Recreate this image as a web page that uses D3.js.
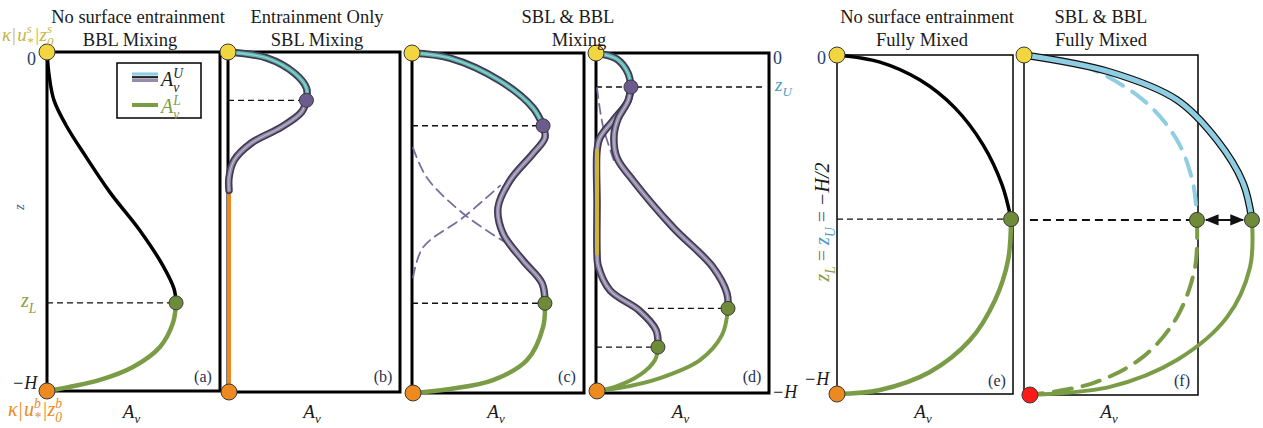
<!DOCTYPE html>
<html><head><meta charset="utf-8">
<script src="https://cdn.jsdelivr.net/npm/d3@7"></script>
<style>
body{margin:0;background:#fff}
svg{display:block}
</style>
</head><body>
<svg id="fig" width="1263" height="428" font-family="'Liberation Serif', 'Times New Roman', 'DejaVu Serif', serif"></svg>
<script>
// Eddy viscosity profiles A_v(z). A_v in relative units (0..100 spans a box),
// z runs from 0 (surface) to -100 (bottom, -H).

// (a) no surface entrainment, BBL mixing
const aUpper = [[0,0],[1.2,-6.8],[4,-14.2],[11,-21.6],[22,-30.5],[36.4,-41.4],[53.8,-52.7],[67,-63],[73.4,-69.8],[74.6,-74]];
const aLower = [[74.6,-74],[72.8,-79.9],[65.3,-87],[49.7,-92.9],[30.6,-96.7],[3.5,-99.7],[0,-100]];

// (b) entrainment only, SBL mixing
const bSurface = [[0,0],[22.8,-1.8],[38.6,-6.2],[45.6,-10.6],[45.6,-14.2]];
const bUpper = [[45.6,-14.2],[42.7,-17.7],[31,-22.1],[13.5,-26.8],[3.5,-31.9],[0.6,-36.9],[0.6,-40.7]];
const bBottom = [[0.6,-40.7],[0.6,-100]];

// (c) SBL & BBL mixing
const cSurface = [[0,0],[22.1,-1.5],[51.2,-8.2],[70.3,-16.1],[76.2,-21.4]];
const cUpper = [[76.2,-21.4],[77.3,-24.9],[70.3,-29.6],[57,-37.5],[50,-45.5],[52.9,-53.1],[64.5,-61],[75.6,-67.7],[77.3,-73.6]];
const cLower = [[77.3,-73.6],[76.2,-80.6],[66.9,-90.3],[47.1,-96.2],[22.1,-98.8],[0.6,-100]];
const cUpperTail = [[0.6,-27.9],[8.7,-36.7],[29.7,-47.2],[57,-56.6]];
const cLowerTail = [[0.6,-66],[6.4,-57.2],[29.7,-48.4],[51.2,-39]];

// (d) SBL & BBL mixing, two interior states
const dSurface = [[0,0],[12.1,-1.8],[18.5,-5.9],[20.2,-10]];
const dUpperA = [[20.2,-10],[18.5,-14.1],[9.8,-19.9],[2.3,-24.9],[0.6,-28.7],[0.6,-44],[0.6,-59],[1.2,-62.5],[8.1,-69.8],[24.9,-75.7],[34.7,-81.5],[35.8,-86.5]];
const dStill = [[0.6,-28.7],[0.6,-59]];
const dUpperB = [[20.2,-10],[18.5,-14.1],[12.7,-19.4],[10.4,-24.3],[12.1,-30.8],[21.4,-37.5],[44.5,-51.3],[67.6,-63],[75.7,-70.7],[76.3,-75.1]];
const dTail = [[0.6,-10.3],[4,-21.4],[11,-32.6]];
const dLowerA = [[35.8,-86.5],[34.1,-90.3],[25.4,-94.7],[11,-98.2],[0.6,-99.4]];
const dLowerB = [[76.3,-75.1],[72.8,-83],[60.1,-90.3],[37,-95.6],[13.9,-98.5],[0.6,-99.4]];

// (e) no surface entrainment, fully mixed
const eUpper = [[0,0],[24.4,-2.1],[47.2,-7.4],[67,-15.6],[83,-26.5],[93.8,-38.3],[98.9,-48.4]];
const eLower = [[98.9,-48.4],[97.2,-60.5],[89.8,-72.3],[75.6,-84.1],[52.8,-93.5],[24.4,-98.8],[0,-100]];

// (f) SBL & BBL fully mixed, with and without surface stress
const fUpper = [[0,0],[49.4,-5],[87.9,-13.2],[110.9,-25],[125.9,-37.6],[131,-48.5]];
const fUpperRef = [[0,0],[30.5,-2.4],[68.4,-13.2],[87.9,-25],[97.1,-37.6],[99.4,-48.5]];
const fLower = [[131,-48.5],[129.9,-62.4],[116.7,-77.1],[87.9,-89.7],[49.4,-97.6],[3.4,-100]];
const fLowerRef = [[99.4,-48.5],[98.3,-62.4],[87.9,-77.1],[68.4,-88.8],[39.7,-96.5],[3.4,-100]];

// titles and panel tags
const titles = [
  ["No surface entrainment","BBL Mixing"],
  ["Entrainment Only","SBL Mixing"],
  ["SBL & BBL","Mixing"],
  null,
  ["No surface entrainment","Fully Mixed"],
  ["SBL & BBL","Fully Mixed"]
];
const tags = ["(a)","(b)","(c)","(d)","(e)","(f)"];

// ---- layout ----
const layout = [
  {x0:47,  x1:220,  y0:52, y1:391, bw:3,   t1:138, t2:130},
  {x0:228, x1:400,  y0:52, y1:392, bw:3,   t1:317, t2:317},
  {x0:412, x1:584,  y0:53, y1:393, bw:3,   t1:568, t2:579},
  {x0:596, x1:769,  y0:53, y1:393, bw:3,   t1:null, t2:null},
  {x0:837, x1:1013, y0:55, y1:394, bw:1.5, t1:927, t2:922},
  {x0:1024,x1:1198, y0:55, y1:395, bw:1.5, t1:1101, t2:1101}
];

const C = {
  yellow:"#f1d640", orange:"#ec8a1f", red:"#ff1a1a",
  green:"#7b9c46", greenDot:"#6e8b39", purpleDot:"#6b5b8f",
  teal:"#5fb7b1", tubeIn:"#958cab", tubeOut:"#403a52",
  blue:"#8ecde2", zU:"#4a9dc8", zL:"#8c9c48", top:"#c9b545", bot:"#ec8a1f",
  dashPurple:"#7b6c9f", ink:"#1a1a1a", navy:"#24426e"
};

const svg = d3.select("#fig");
const defs = svg.append("defs");
["s","e"].forEach(k=>{
  defs.append("marker").attr("id","arr"+k).attr("viewBox","0 0 10 10")
    .attr("refX", 9).attr("refY",5).attr("markerWidth",7).attr("markerHeight",7)
    .attr("orient", k==="e"?"auto":"auto-start-reverse")
    .append("path").attr("d","M0,1 L10,5 L0,9 z").attr("fill","#111");
});

const panels = layout.map(L => {
  const x = d3.scaleLinear().domain([0,100]).range([L.x0,L.x1]);
  const y = d3.scaleLinear().domain([0,-100]).range([L.y0,L.y1]);
  const line = d3.line().x(d=>x(d[0])).y(d=>y(d[1])).curve(d3.curveCatmullRom.alpha(0.5));
  const g = svg.append("g");
  return {L,x,y,line,g,
    box:g.append("g"), back:g.append("g"), mid:g.append("g"), front:g.append("g")};
});

function stroke(p, layer, pts, color, w, dash, op){
  return p[layer].append("path").attr("d",p.line(pts)).attr("fill","none")
    .attr("stroke",color).attr("stroke-width",w).attr("stroke-linecap","round")
    .attr("stroke-dasharray",dash||null).attr("stroke-opacity",op==null?1:op);
}
function tube(p, pts, inner){
  stroke(p,"mid",pts,C.tubeOut,7.5);
  stroke(p,"mid",pts,inner,4);
  stroke(p,"mid",pts,"#ffffff",0.9,null,0.5);
}
function dot(p, pt, fill, r){
  p.front.append("circle").attr("cx",p.x(pt[0])).attr("cy",p.y(pt[1])).attr("r",r||7.5)
    .attr("fill",fill).attr("stroke","#3a3a3a").attr("stroke-width",1);
}
function guide(p, z, xa, xb, opts){
  opts = opts||{};
  p.back.append("line").attr("x1",p.x(xa)).attr("x2",p.x(xb)).attr("y1",p.y(z)).attr("y2",p.y(z))
    .attr("stroke",opts.color||"#111").attr("stroke-width",opts.w||1.3)
    .attr("stroke-dasharray",opts.dash||"6,4").attr("stroke-opacity",opts.op||1);
}
const first = a=>a[0], last = a=>a[a.length-1];

// math-style label made of base/superscript/subscript pieces
function mathText(x, y, tokens, o){
  o = Object.assign({size:18, anchor:"start", color:C.ink, rotate:0}, o||{});
  const g = svg.append("g").attr("transform",`translate(${x},${y}) rotate(${o.rotate})`);
  const inner = g.append("g");
  let cx = 0;
  const small = o.size*0.68;
  tokens.forEach(tk=>{
    const col = tk.color||o.color;
    const style = tk.it===false ? "normal" : "italic";
    cx += (tk.pre||0);
    if(tk.t){
      const t = inner.append("text").attr("x",cx).attr("y",0).attr("font-size",o.size)
        .attr("fill",col).attr("font-style",style).style("white-space","pre").text(tk.t);
      cx += t.node().getComputedTextLength();
    }
    let w = 0;
    if(tk.sup){
      const t = inner.append("text").attr("x",cx).attr("y",-o.size*0.40).attr("font-size",small)
        .attr("fill",col).attr("font-style","italic").text(tk.sup);
      w = Math.max(w,t.node().getComputedTextLength());
    }
    if(tk.sub){
      const t = inner.append("text").attr("x",cx).attr("y",o.size*0.28).attr("font-size",small)
        .attr("fill",col).attr("font-style","italic").text(tk.sub);
      w = Math.max(w,t.node().getComputedTextLength());
    }
    cx += w + (tk.gap||0);
  });
  if(o.anchor==="middle") inner.attr("transform",`translate(${-cx/2},0)`);
  return g;
}

// ---- boxes, titles, tags, axis labels ----
panels.forEach((p,i)=>{
  const L = p.L;
  p.box.append("rect").attr("x",L.x0).attr("y",L.y0).attr("width",L.x1-L.x0).attr("height",L.y1-L.y0)
    .attr("fill","none").attr("stroke","#000").attr("stroke-width",L.bw);
  if(titles[i]){
    svg.append("text").attr("x",L.t1).attr("y",23).attr("text-anchor","middle").attr("font-size",18.5)
      .attr("fill",C.ink).text(titles[i][0]);
    svg.append("text").attr("x",L.t2).attr("y",46).attr("text-anchor","middle").attr("font-size",18.5)
      .attr("fill",C.ink).text(titles[i][1]);
  }
  svg.append("text").attr("x",L.x1-(i<4?17:16)).attr("y",(i<4?382:386)).attr("text-anchor","middle")
    .attr("font-size",16).attr("fill","#1f2f4f").text(tags[i]);
  mathText((L.x0+L.x1)/2 - 2, 418, [{t:"A",sub:"v"}], {anchor:"middle", size:19});
});

// ---- (a) ----
{
  const p = panels[0];
  guide(p, last(aUpper)[1], 0, last(aUpper)[0]);
  stroke(p,"mid",aLower,C.green,4.5);
  stroke(p,"mid",aUpper,"#000",3.5);
  dot(p, first(aUpper), C.yellow, 8);
  dot(p, last(aLower), C.orange, 8);
  dot(p, last(aUpper), C.greenDot, 7);
  // legend
  const lg = p.front.append("g");
  lg.append("rect").attr("x",117).attr("y",63).attr("width",84).attr("height",55)
    .attr("fill","#fff").attr("stroke","#000").attr("stroke-width",1.5);
  [[C.blue,74,3.2],["#222",77.2,2.2],[C.tubeIn,80.4,3.2]].forEach(([c,yy,w])=>{
    lg.append("line").attr("x1",132).attr("x2",158).attr("y1",yy).attr("y2",yy).attr("stroke",c).attr("stroke-width",w);
  });
  lg.append("line").attr("x1",132).attr("x2",158).attr("y1",105).attr("y2",105).attr("stroke",C.green).attr("stroke-width",4);
}
mathText(161, 86, [{t:"A",sup:"U",sub:"v"}], {size:20});
mathText(161, 113, [{t:"A",sup:"L",sub:"v"}], {size:20, color:C.green});

// ---- (b) ----
{
  const p = panels[1];
  guide(p, last(bSurface)[1], 0, last(bSurface)[0]);
  stroke(p,"mid",bBottom,C.orange,4);
  tube(p,bUpper,C.tubeIn);
  tube(p,bSurface,C.teal);
  dot(p, first(bSurface), C.yellow, 8);
  dot(p, last(bBottom), C.orange, 8);
  dot(p, last(bSurface), C.purpleDot, 7);
}

// ---- (c) ----
{
  const p = panels[2];
  guide(p, last(cSurface)[1], 0, last(cSurface)[0]);
  guide(p, last(cUpper)[1], 0, last(cUpper)[0]);
  stroke(p,"back",cUpperTail,C.dashPurple,1.8,"10,6");
  stroke(p,"back",cLowerTail,C.dashPurple,1.8,"10,6");
  stroke(p,"mid",cLower,C.green,4.5);
  tube(p,cUpper,C.tubeIn);
  tube(p,cSurface,C.teal);
  dot(p, first(cSurface), C.yellow, 8);
  dot(p, last(cLower), C.orange, 8);
  dot(p, last(cSurface), C.purpleDot, 7);
  dot(p, last(cUpper), C.greenDot, 7);
}

// ---- (d) ----
{
  const p = panels[3];
  guide(p, last(dSurface)[1], 0, 96);
  guide(p, last(dUpperB)[1], 30, last(dUpperB)[0]-4, {dash:"6,4"});
  guide(p, last(dUpperA)[1], 0, last(dUpperA)[0]-2);
  stroke(p,"back",dTail,C.dashPurple,1.8,"10,6");
  stroke(p,"mid",dLowerA,C.green,4);
  stroke(p,"mid",dLowerB,C.green,4);
  tube(p,dUpperA,C.tubeIn);
  stroke(p,"mid",dStill,"#cdb53a",4);
  tube(p,dUpperB,C.tubeIn);
  tube(p,dSurface,C.teal);
  dot(p, first(dSurface), C.yellow, 8);
  dot(p, last(dLowerA), C.orange, 8);
  dot(p, last(dSurface), C.purpleDot, 7);
  dot(p, last(dUpperA), C.greenDot, 7);
  dot(p, last(dUpperB), C.greenDot, 7);
}
svg.append("text").attr("x",773).attr("y",64).attr("font-size",18).attr("fill",C.navy).text("0");
mathText(775, 91, [{t:"z",sub:"U"}], {size:19, color:C.zU});
mathText(772, 398, [{t:"−H"}], {size:18});

// ---- (e) ----
{
  const p = panels[4];
  guide(p, last(eUpper)[1], 0, last(eUpper)[0]);
  stroke(p,"mid",eLower,C.green,4.5);
  stroke(p,"mid",eUpper,"#000",3.5);
  dot(p, first(eUpper), C.yellow, 8);
  dot(p, last(eLower), C.orange, 8);
  dot(p, last(eUpper), C.greenDot, 7.5);
}
svg.append("text").attr("x",817).attr("y",64).attr("font-size",18).attr("fill",C.navy).text("0");
mathText(804, 385, [{t:"−H"}], {size:18});
mathText(829, 222, [
  {t:"z",sub:"L",color:C.zL,gap:5},{t:"=",it:false,color:"#8a7560",gap:5},
  {t:"z",sub:"U",color:C.zU,gap:5},{t:"=",it:false,color:"#6a5a80",gap:5},{t:"−H/2",color:C.ink}
], {size:20, anchor:"middle", rotate:-90});

// ---- (f) ----
{
  const p = panels[5];
  guide(p, last(fUpperRef)[1], 3.4, last(fUpperRef)[0]-4, {w:2, dash:"8,5"});
  stroke(p,"mid",fLowerRef,C.green,4,"18,11");
  stroke(p,"mid",fUpperRef,C.blue,4,"18,11");
  stroke(p,"mid",fLower,C.green,4);
  stroke(p,"mid",fUpper,"#111",7.5);
  stroke(p,"mid",fUpper,C.blue,5);
  const zA = last(fUpper)[1];
  p.front.append("line").attr("x1",p.x(last(fUpperRef)[0])+9).attr("x2",p.x(last(fUpper)[0])-9)
    .attr("y1",p.y(zA)).attr("y2",p.y(zA)).attr("stroke","#111").attr("stroke-width",2)
    .attr("marker-start","url(#arrs)").attr("marker-end","url(#arre)");
  dot(p, first(fUpper), C.yellow, 8);
  dot(p, last(fLower), C.red, 8);
  dot(p, last(fUpperRef), C.greenDot, 7.5);
  dot(p, last(fUpper), C.greenDot, 7.5);
}

// ---- left-hand labels ----
mathText(2, 41, [{t:"κ|",it:true,gap:1},{t:"u",sup:"s",sub:"*",gap:1},{t:"|z",sup:"s",sub:"0"}], {size:19, color:C.top});
svg.append("text").attr("x",27).attr("y",65).attr("font-size",18).attr("fill",C.navy).text("0");
mathText(24, 207, [{t:"z"}], {size:15, color:"#3f5f8f", rotate:-90, anchor:"middle"});
mathText(21, 307, [{t:"z",sub:"L"}], {size:20, color:C.zL});
mathText(12, 389, [{t:"−H"}], {size:18});
mathText(8, 416, [{t:"κ|",it:true,gap:1},{t:"u",sup:"b",sub:"*",gap:1},{t:"|z",sup:"b",sub:"0"}], {size:20, color:C.bot});
</script>
</body></html>
